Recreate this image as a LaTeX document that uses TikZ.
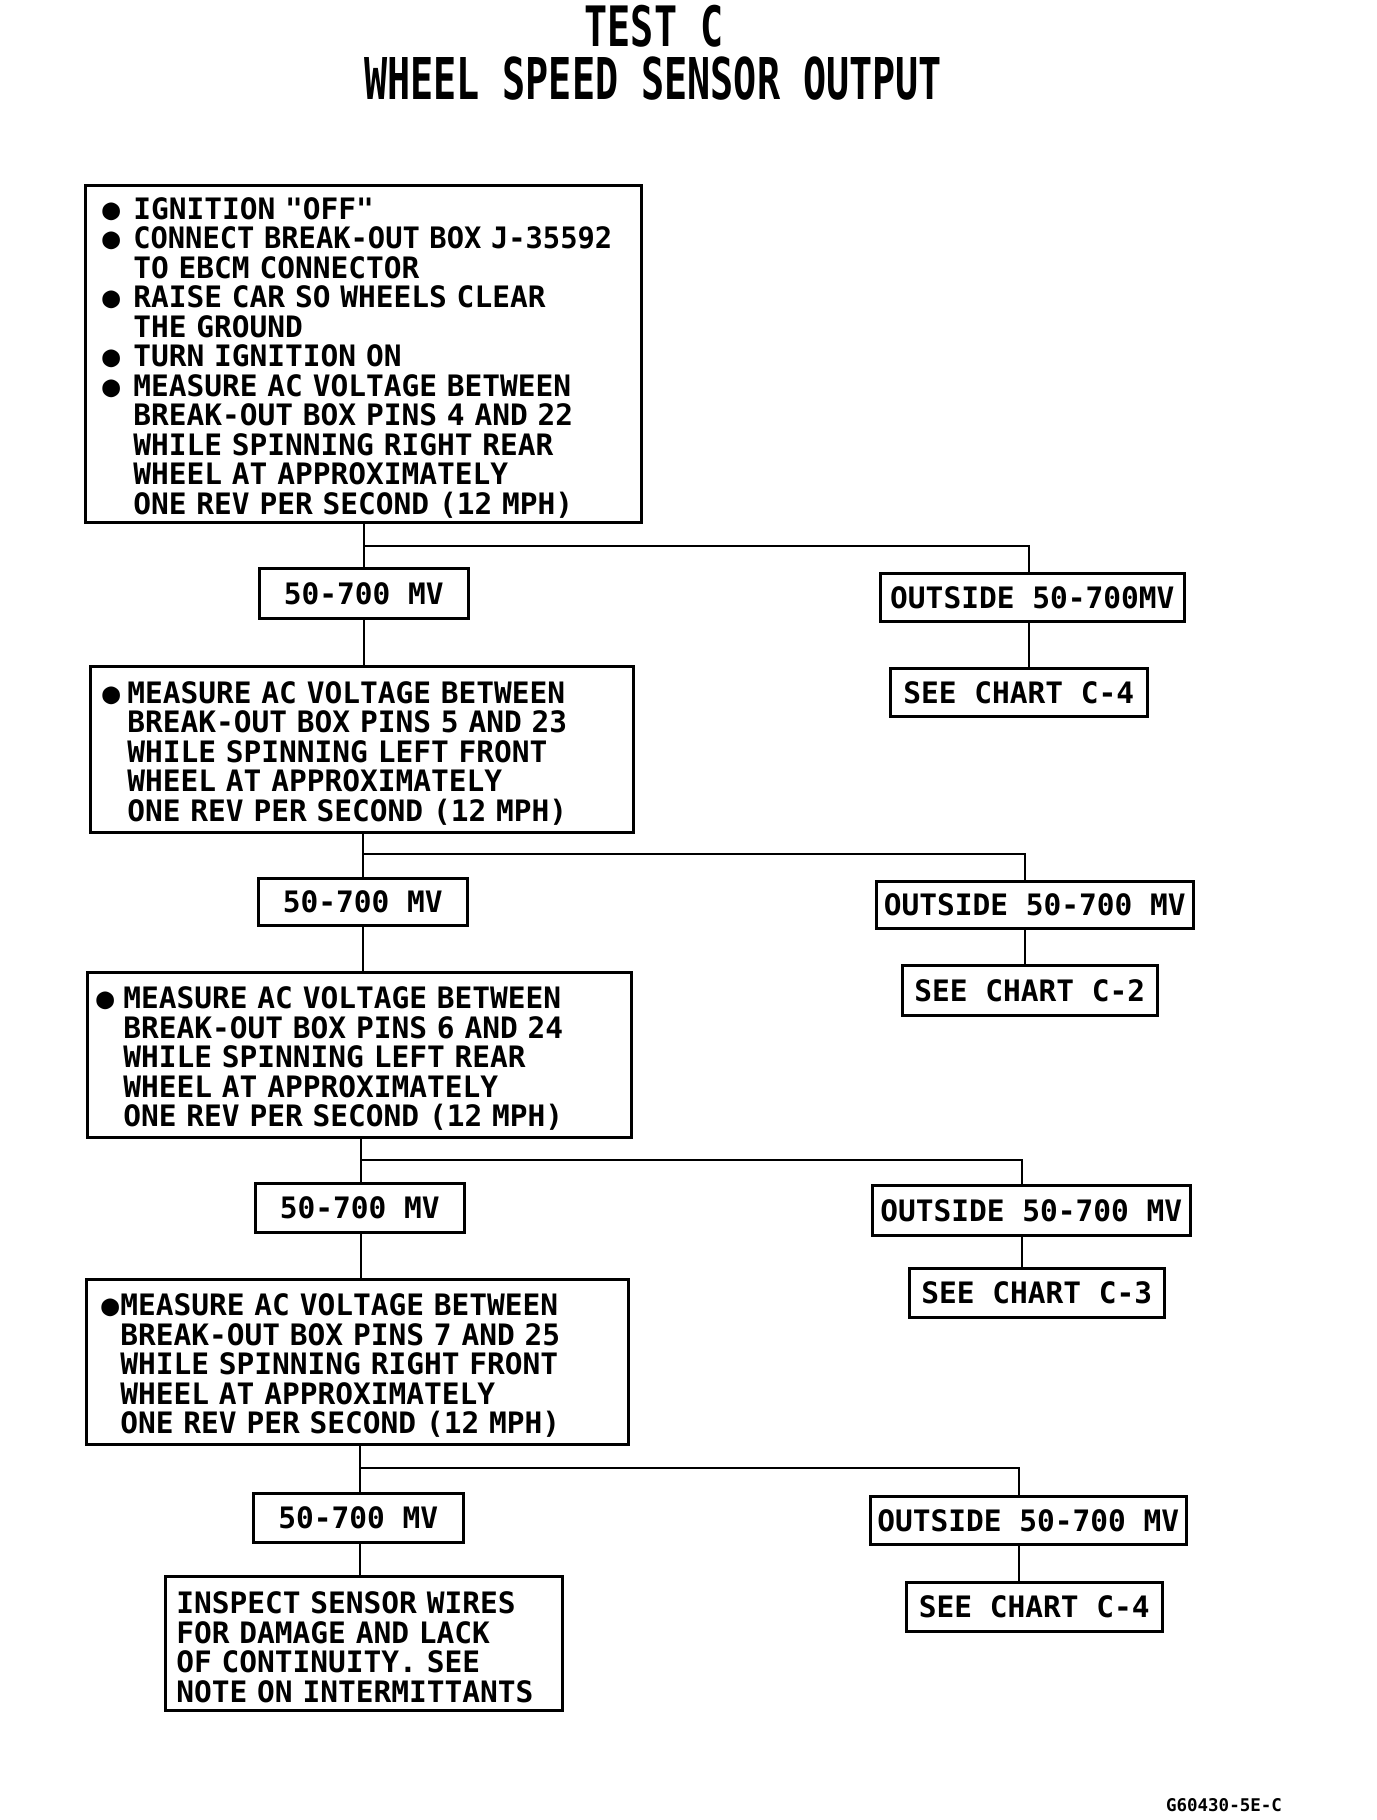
\documentclass[tikz,border=0pt]{standalone}
\usepackage{fontspec}
\usepackage{graphicx}
\newfontfamily\plotfont{DejaVu Sans Mono}
\newcommand{\bul}[1]{\makebox[#1][l]{●}}
\newcommand{\ind}[1]{\hspace*{#1}}
\newcommand{\topfix}{\rule{0pt}{30pt}}
\begin{document}
\begin{tikzpicture}[x=1pt,y=-1pt,
  txt/.style={font=\plotfont\bfseries\fontsize{29.5}{29.5}\selectfont},
  tbox/.style={txt, draw, line width=2.6pt, anchor=north west, align=left, inner ysep=0pt},
  sbox/.style={txt, draw, line width=2.6pt, anchor=north west, align=center, inner sep=0pt},
  conn/.style={line width=1.6pt},
  ttl/.style={font=\plotfont\bfseries\fontsize{38.4}{38.4}\selectfont}]
\fill[white] (0,0) rectangle (1376,1820);
\useasboundingbox (0,0) rectangle (1376,1820);

% titles
\node[ttl] (t1) at (654,26) {\scalebox{1}[1.45]{TEST C}};
\node[ttl] (t2) at (653,79) {\scalebox{1}[1.5]{WHEEL SPEED SENSOR OUTPUT}};

% main boxes
\node[tbox, minimum width=556pt, minimum height=337pt, text width=522pt, inner xsep=17pt] (b1) at (84,184)
 {\topfix\bul{31pt}IGNITION "OFF"\\
  \bul{31pt}\scalebox{0.975}[1]{CONNECT BREAK-OUT BOX J-35592}\\
  \ind{31pt}TO EBCM CONNECTOR\\
  \bul{31pt}RAISE CAR SO WHEELS CLEAR\\
  \ind{31pt}THE GROUND\\
  \bul{31pt}TURN IGNITION ON\\
  \bul{31pt}MEASURE AC VOLTAGE BETWEEN\\
  \ind{31pt}BREAK-OUT BOX PINS 4 AND 22\\
  \ind{31pt}WHILE SPINNING RIGHT REAR\\
  \ind{31pt}WHEEL AT APPROXIMATELY\\
  \ind{31pt}ONE REV PER SECOND (12 MPH)};

\node[tbox, minimum width=543pt, minimum height=166pt, text width=519pt, inner xsep=12pt] (b2) at (89,665)
 {\topfix\bul{25pt}MEASURE AC VOLTAGE BETWEEN\\
  \ind{25pt}BREAK-OUT BOX PINS 5 AND 23\\
  \ind{25pt}WHILE SPINNING LEFT FRONT\\
  \ind{25pt}WHEEL AT APPROXIMATELY\\
  \ind{25pt}ONE REV PER SECOND (12 MPH)};

\node[tbox, minimum width=544pt, minimum height=165pt, text width=526pt, inner xsep=9pt] (b3) at (86,971)
 {\topfix\bul{27pt}MEASURE AC VOLTAGE BETWEEN\\
  \ind{27pt}BREAK-OUT BOX PINS 6 AND 24\\
  \ind{27pt}WHILE SPINNING LEFT REAR\\
  \ind{27pt}WHEEL AT APPROXIMATELY\\
  \ind{27pt}ONE REV PER SECOND (12 MPH)};

\node[tbox, minimum width=542pt, minimum height=165pt, text width=512pt, inner xsep=15pt] (b4) at (85,1278)
 {\topfix\bul{19pt}MEASURE AC VOLTAGE BETWEEN\\
  \ind{19pt}BREAK-OUT BOX PINS 7 AND 25\\
  \ind{19pt}WHILE SPINNING RIGHT FRONT\\
  \ind{19pt}WHEEL AT APPROXIMATELY\\
  \ind{19pt}ONE REV PER SECOND (12 MPH)};

\node[tbox, minimum width=397pt, minimum height=134pt, text width=375pt, inner xsep=11pt] (b5) at (164,1575)
 {\topfix INSPECT SENSOR WIRES\\
  FOR DAMAGE AND LACK\\
  OF CONTINUITY. SEE\\
  NOTE ON INTERMITTANTS};

% result boxes
\node[sbox, minimum width=209pt, minimum height=50pt] (m1) at (258,567) {50-700 MV};
\node[sbox, minimum width=304pt, minimum height=48pt] (o1) at (879,572) {OUTSIDE 50-700MV};
\node[sbox, minimum width=257pt, minimum height=48pt] (s1) at (889,667) {SEE CHART C-4};

\node[sbox, minimum width=209pt, minimum height=47pt] (m2) at (257,877) {50-700 MV};
\node[sbox, minimum width=317pt, minimum height=47pt] (o2) at (875,880) {OUTSIDE 50-700 MV};
\node[sbox, minimum width=255pt, minimum height=50pt] (s2) at (901,964) {SEE CHART C-2};

\node[sbox, minimum width=209pt, minimum height=49pt] (m3) at (254,1182) {50-700 MV};
\node[sbox, minimum width=318pt, minimum height=50pt] (o3) at (871,1184) {OUTSIDE 50-700 MV};
\node[sbox, minimum width=255pt, minimum height=49pt] (s3) at (908,1267) {SEE CHART C-3};

\node[sbox, minimum width=210pt, minimum height=49pt] (m4) at (252,1492) {50-700 MV};
\node[sbox, minimum width=316pt, minimum height=48pt] (o4) at (869,1495) {OUTSIDE 50-700 MV};
\node[sbox, minimum width=256pt, minimum height=49pt] (s4) at (905,1581) {SEE CHART C-4};

% junctions
\coordinate (j1) at (364,546);  \coordinate (r1) at (1029,546);
\coordinate (j2) at (363,854);  \coordinate (r2) at (1025,854);
\coordinate (j3) at (361,1160); \coordinate (r3) at (1022,1160);
\coordinate (j4) at (360,1468); \coordinate (r4) at (1019,1468);

% connectors
\draw[conn] (b1.south -| j1) -- (m1.north -| j1);
\draw[conn] (j1) -- (r1) -- (o1.north -| r1);
\draw[conn] (m1.south -| j1) -- (b2.north -| j1);
\draw[conn] (o1.south -| r1) -- (s1.north -| r1);

\draw[conn] (b2.south -| j2) -- (m2.north -| j2);
\draw[conn] (j2) -- (r2) -- (o2.north -| r2);
\draw[conn] (m2.south -| j2) -- (b3.north -| j2);
\draw[conn] (o2.south -| r2) -- (s2.north -| r2);

\draw[conn] (b3.south -| j3) -- (m3.north -| j3);
\draw[conn] (j3) -- (r3) -- (o3.north -| r3);
\draw[conn] (m3.south -| j3) -- (b4.north -| j3);
\draw[conn] (o3.south -| r3) -- (s3.north -| r3);

\draw[conn] (b4.south -| j4) -- (m4.north -| j4);
\draw[conn] (j4) -- (r4) -- (o4.north -| r4);
\draw[conn] (m4.south -| j4) -- (b5.north -| j4);
\draw[conn] (o4.south -| r4) -- (s4.north -| r4);

% footer
\node[font=\plotfont\bfseries\fontsize{17.5}{17.5}\selectfont] (ft) at (1224,1805) {G60430-5E-C};
\end{tikzpicture}
\end{document}
